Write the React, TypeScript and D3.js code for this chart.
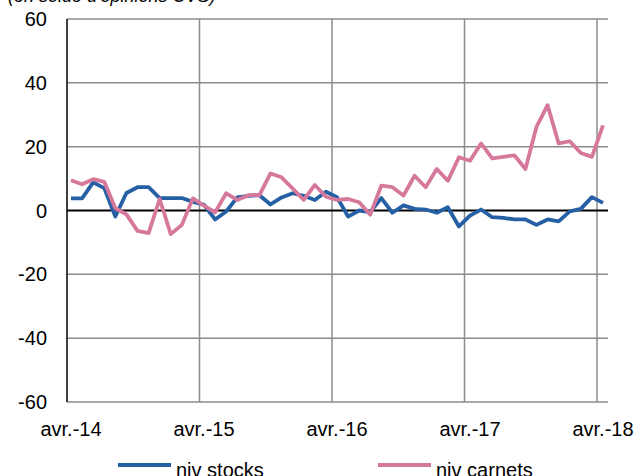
import React, { useEffect, useRef } from "react";
import * as d3 from "d3";

const yearLabels = ["avr.-14", "avr.-15", "avr.-16", "avr.-17", "avr.-18"];
const yTicks = [60, 40, 20, 0, -20, -40, -60];

// monthly values, avr.-14 .. avr.-18
const nivStocks = [
  3.8, 3.8, 8.8, 7, -1.9, 5.5, 7.3, 7.3, 3.9, 3.9, 3.9, 2.7,
  1.8, -2.8, -0.3, 4.1, 4.6, 4.8, 1.9, 4.1, 5.4, 4.6, 3.3, 5.9,
  4.2, -1.9, 0, -0.5, 3.9, -0.7, 1.6, 0.5, 0.3, -0.7, 1.0, -5,
  -1.6, 0.3, -2.1, -2.3, -2.8, -2.8, -4.5, -2.8, -3.4, -0.3, 0.5, 4.2,
  2.4,
];
const nivCarnets = [
  9.5, 8.2, 9.8, 9, 0.7, -1.2, -6.4, -7.1, 3.6, -7.4, -4.5, 3.8,
  1.5, -0.6, 5.4, 3.3, 4.8, 4.8, 11.6, 10.4, 6.9, 3.3, 8, 4.3,
  3.3, 3.6, 2.6, -1.3, 7.8, 7.3, 4.7, 10.9, 7.3, 13, 9.3, 16.7,
  15.6, 21, 16.3, 16.8, 17.3, 13, 26.2, 33, 21, 21.7, 18, 16.8,
  26.7,
];

const series = [
  { name: "niv stocks", values: nivStocks, color: "#2660A4" },
  { name: "niv carnets", values: nivCarnets, color: "#D6789B" },
];

export default function App() {
  const ref = useRef<SVGSVGElement>(null);

  useEffect(() => {
    const svg = d3.select(ref.current);
    svg.selectAll("*").remove();

    const left = 67;
    const right = 608;
    const font = "'Liberation Sans', Arial, sans-serif";

    const x = d3.scaleLinear().domain([0, 48]).range([71, 603]);
    const y = d3.scaleLinear().domain([-60, 60]).range([402, 19]);
    const gridX = (k: number) => left + k * 132.5;

    // title (cropped at top)
    svg.append("text")
      .attr("x", 8)
      .attr("y", 2)
      .attr("font-family", font)
      .attr("font-size", 18)
      .attr("font-style", "italic")
      .text("(en solde d'opinions CVS)");

    // horizontal grid
    svg.append("g")
      .selectAll("line")
      .data(yTicks.filter((d) => d !== 0))
      .enter()
      .append("line")
      .attr("x1", left)
      .attr("x2", right)
      .attr("y1", (d) => y(d))
      .attr("y2", (d) => y(d))
      .attr("stroke", "#8c8c8c")
      .attr("stroke-width", 1.5);

    // vertical grid
    svg.append("g")
      .selectAll("line")
      .data([1, 2, 3, 4])
      .enter()
      .append("line")
      .attr("x1", (d) => gridX(d))
      .attr("x2", (d) => gridX(d))
      .attr("y1", y(60))
      .attr("y2", y(-60))
      .attr("stroke", "#8c8c8c")
      .attr("stroke-width", 1.5);

    // left axis
    svg.append("line")
      .attr("x1", left)
      .attr("x2", left)
      .attr("y1", y(60))
      .attr("y2", y(-60))
      .attr("stroke", "#000")
      .attr("stroke-width", 1.5);

    // zero line
    svg.append("line")
      .attr("x1", left)
      .attr("x2", right)
      .attr("y1", y(0))
      .attr("y2", y(0))
      .attr("stroke", "#000")
      .attr("stroke-width", 2);

    // y labels
    svg.append("g")
      .selectAll("text")
      .data(yTicks)
      .enter()
      .append("text")
      .attr("x", 47)
      .attr("y", (d) => y(d))
      .attr("dy", "0.35em")
      .attr("text-anchor", "end")
      .attr("font-family", font)
      .attr("font-size", 20)
      .text((d) => d);

    // x labels
    svg.append("g")
      .selectAll("text")
      .data(yearLabels)
      .enter()
      .append("text")
      .attr("x", (d, i) => x(i * 12))
      .attr("y", 436)
      .attr("text-anchor", "middle")
      .attr("font-family", font)
      .attr("font-size", 20)
      .text((d) => d);

    const line = d3.line<number>()
      .x((d, i) => x(i))
      .y((d) => y(d));

    series.forEach((s) => {
      svg.append("path")
        .datum(s.values)
        .attr("d", line)
        .attr("fill", "none")
        .attr("stroke", s.color)
        .attr("stroke-width", 3.8)
        .attr("stroke-linejoin", "round");
    });

    // legend
    const legendX = [118, 378];
    series.forEach((s, i) => {
      svg.append("line")
        .attr("x1", legendX[i])
        .attr("x2", legendX[i] + 53)
        .attr("y1", 465)
        .attr("y2", 465)
        .attr("stroke", s.color)
        .attr("stroke-width", 4);
      svg.append("text")
        .attr("x", legendX[i] + 58)
        .attr("y", 477)
        .attr("font-family", font)
        .attr("font-size", 20)
        .text(s.name);
    });
  }, []);

  return (
    <svg
      ref={ref}
      width={638}
      height={476}
      style={{ position: "absolute", left: 0, top: 0, background: "#fff" }}
    ></svg>
  );
}
